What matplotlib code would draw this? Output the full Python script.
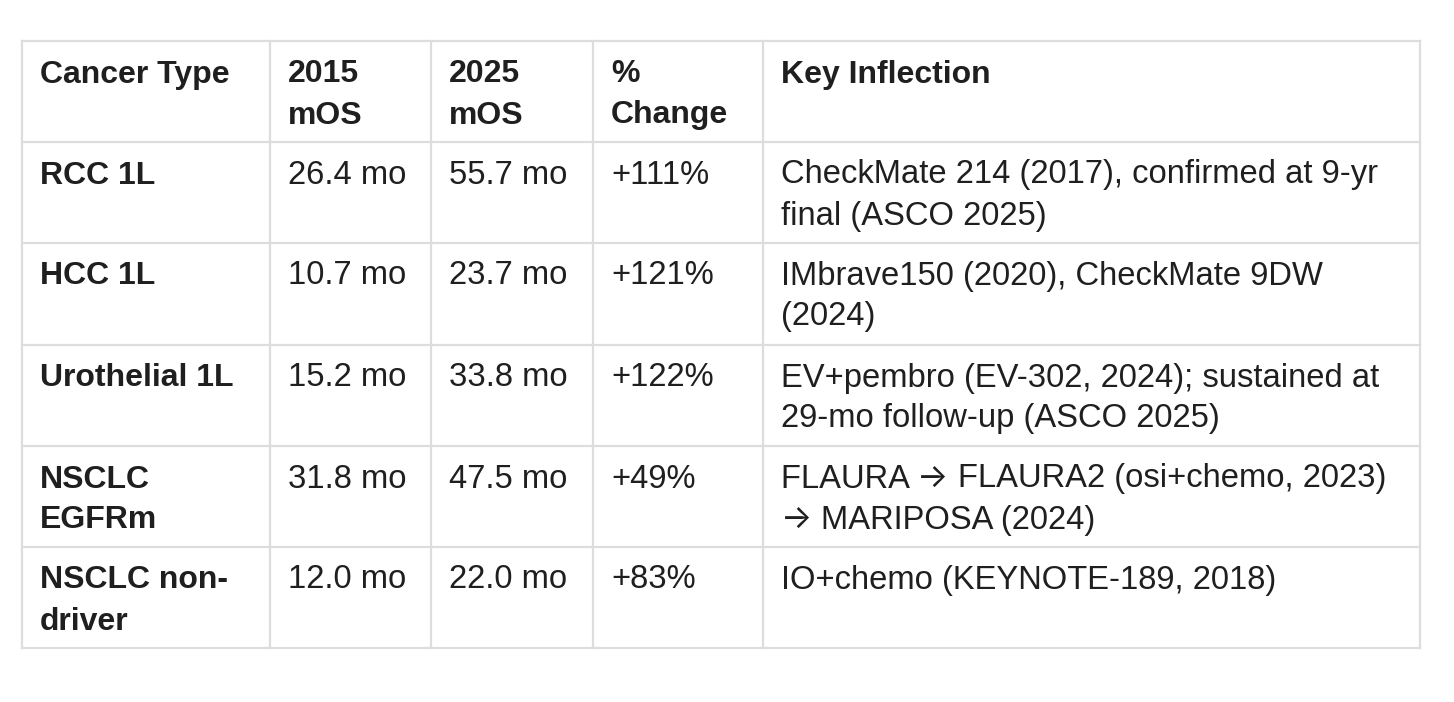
import matplotlib
matplotlib.use("Agg")
import matplotlib.pyplot as plt

headers = ["Cancer Type", "2015\nmOS", "2025\nmOS", "%\nChange", "Key Inflection"]
cancer_types = ["RCC 1L", "HCC 1L", "Urothelial 1L", "NSCLC\nEGFRm", "NSCLC non-\ndriver"]
mos_2015 = ["26.4 mo", "10.7 mo", "15.2 mo", "31.8 mo", "12.0 mo"]
mos_2025 = ["55.7 mo", "23.7 mo", "33.8 mo", "47.5 mo", "22.0 mo"]
pct_change = ["+111%", "+121%", "+122%", "+49%", "+83%"]
key_inflection = [
    "CheckMate 214 (2017), confirmed at 9-yr\nfinal (ASCO 2025)",
    "IMbrave150 (2020), CheckMate 9DW\n(2024)",
    "EV+pembro (EV-302, 2024); sustained at\n29-mo follow-up (ASCO 2025)",
    "FLAURA \u2192 FLAURA2 (osi+chemo, 2023)\n\u2192 MARIPOSA (2024)",
    "IO+chemo (KEYNOTE-189, 2018)",
]

W, H = 1454, 702
fig = plt.figure(figsize=(W / 100, H / 100), dpi=100)
ax = fig.add_axes([0, 0, 1, 1])
ax.set_xlim(0, W)
ax.set_ylim(H, 0)
ax.axis("off")
renderer = fig.canvas.get_renderer()

col_x = [22, 270, 431, 593, 763, 1420]
row_y = [41, 142, 243, 345, 446, 547, 648]
grid_color = "#dddddd"
text_color = "#1f1f1f"
font = ["Liberation Sans", "DejaVu Sans"]
arrow_font = ["Inter", "DejaVu Sans"]

for x in col_x:
    ax.plot([x, x], [row_y[0], row_y[-1]], color=grid_color, lw=1.6, solid_capstyle="projecting")
for y in row_y:
    ax.plot([col_x[0], col_x[-1]], [y, y], color=grid_color, lw=1.6, solid_capstyle="projecting")

rows = [headers] + [list(r) for r in zip(cancer_types, mos_2015, mos_2025, pct_change, key_inflection)]


def draw_line(x, y, line, fs, weight):
    # split on arrow so the arrow can use a font with a compact arrow glyph
    parts = []
    buf = ""
    for ch in line:
        if ch == "\u2192":
            if buf:
                parts.append((buf, font))
            parts.append((ch, arrow_font))
            buf = ""
        else:
            buf += ch
    if buf:
        parts.append((buf, font))
    cx = x
    for txt, fam in parts:
        t = ax.text(cx, y, txt, fontsize=fs, family=fam, color=text_color,
                    fontweight=weight, ha="left", va="baseline")
        if fam is arrow_font:
            t.set_y(y)
        bb = t.get_window_extent(renderer=renderer)
        # width in data units (1 data unit == 1 pixel)
        w = bb.width
        if txt.endswith(" "):
            pass
        cx += w + (ax.text(0, 0, " ", fontsize=fs, family=font).get_window_extent(renderer=renderer).width * 0 )
    return cx


line_h = 41
for ri, row in enumerate(rows):
    top = row_y[ri]
    for ci, cell in enumerate(row):
        bold = ri == 0 or ci == 0
        fs = 23 if bold else 23.6
        weight = "bold" if bold else "normal"
        for li, line in enumerate(cell.split("\n")):
            y = top + 41.5 + li * line_h
            if "\u2192" in line:
                # draw with segment-wise layout
                segs = line.split("\u2192")
                cx = col_x[ci] + 18
                for si, seg in enumerate(segs):
                    if si > 0:
                        a = ax.text(cx, y, "\u2192", fontsize=fs, family=arrow_font,
                                    color=text_color, fontweight=weight,
                                    ha="left", va="baseline")
                        cx += a.get_window_extent(renderer=renderer).width
                    if seg:
                        # keep leading/trailing spaces by measuring with placeholders
                        t = ax.text(cx, y, seg, fontsize=fs, family=font,
                                    color=text_color, fontweight=weight,
                                    ha="left", va="baseline")
                        probe = ax.text(0, 0, "|" + seg + "|", fontsize=fs, family=font,
                                        fontweight=weight)
                        bar = ax.text(0, 0, "||", fontsize=fs, family=font, fontweight=weight)
                        wseg = (probe.get_window_extent(renderer=renderer).width
                                - bar.get_window_extent(renderer=renderer).width)
                        probe.remove()
                        bar.remove()
                        # leading spaces shift the text start
                        lead = len(seg) - len(seg.lstrip(" "))
                        if lead:
                            sp = ax.text(0, 0, "|" + " " * lead + "|", fontsize=fs, family=font, fontweight=weight)
                            bar2 = ax.text(0, 0, "||", fontsize=fs, family=font, fontweight=weight)
                            wl = (sp.get_window_extent(renderer=renderer).width
                                  - bar2.get_window_extent(renderer=renderer).width)
                            sp.remove()
                            bar2.remove()
                            t.set_text(seg.lstrip(" "))
                            t.set_x(cx + wl)
                        cx += wseg
            else:
                ax.text(col_x[ci] + 18, y, line, fontsize=fs, family=font,
                        color=text_color, fontweight=weight,
                        ha="left", va="baseline")

fig.savefig("out.png", dpi=100, facecolor="white")
